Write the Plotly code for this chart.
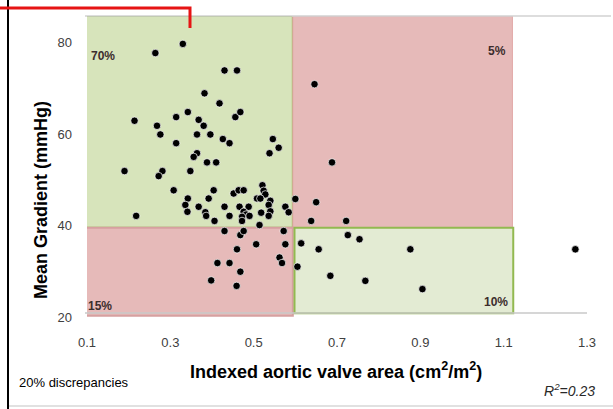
import plotly.graph_objects as go

# ---- data ----
ava_index = [0.330, 0.264, 0.430, 0.460, 0.382, 0.418, 0.342, 0.314, 0.214, 0.456,
             0.468, 0.368, 0.380, 0.268, 0.276, 0.364, 0.396, 0.426, 0.442, 0.314,
             0.546, 0.560, 0.538, 0.364, 0.356, 0.388, 0.410, 0.190, 0.281, 0.272,
             0.348, 0.308, 0.342, 0.404, 0.392, 0.452, 0.464, 0.476, 0.521, 0.524,
             0.528, 0.508, 0.516, 0.218, 0.336, 0.341, 0.368, 0.384, 0.386, 0.406,
             0.430, 0.442, 0.466, 0.488, 0.476, 0.482, 0.472, 0.490, 0.472, 0.540,
             0.536, 0.518, 0.540, 0.536, 0.576, 0.584, 0.514,
             0.646, 0.688, 0.600, 0.650, 0.638, 0.722,
             0.430, 0.468, 0.476, 0.572, 0.460, 0.506, 0.576, 0.413, 0.442, 0.468,
             0.562, 0.568, 0.398, 0.459,
             0.614, 0.605, 0.656, 0.726, 0.754, 0.684, 0.768, 0.876, 0.905, 1.272]
mean_gradient = [79.7, 77.7, 73.9, 73.9, 68.9, 66.7, 64.8, 63.7, 62.9, 63.7,
                 64.8, 63.1, 61.8, 61.8, 59.9, 59.9, 59.9, 58.9, 58.0, 58.0,
                 58.9, 57.0, 55.8, 55.8, 55.0, 53.8, 53.8, 51.9, 51.9, 50.8,
                 51.9, 47.7, 45.9, 47.7, 45.9, 47.0, 47.7, 47.7, 48.8, 47.6,
                 46.8, 45.9, 45.9, 42.1, 44.5, 43.0, 44.1, 42.9, 42.1, 41.0,
                 44.1, 42.1, 44.1, 44.1, 43.0, 42.4, 41.9, 42.1, 41.0, 45.4,
                 44.5, 42.8, 43.1, 42.1, 44.1, 42.9, 40.1,
                 70.9, 53.8, 45.8, 45.1, 41.0, 41.0,
                 38.8, 37.9, 38.8, 38.8, 34.8, 35.9, 35.9, 31.8, 31.8, 29.9,
                 33.0, 31.8, 28.0, 26.8,
                 36.1, 31.0, 34.8, 37.9, 37.0, 29.0, 27.9, 34.8, 26.1, 34.8]

x_ticks = [0.1, 0.3, 0.5, 0.7, 0.9, 1.1, 1.3]
y_ticks = [20, 40, 60, 80]
region_labels = ["70%", "5%", "15%", "10%"]

# thresholds / region limits
ava_cut = 0.594
grad_cut = 39.5
ava_min, ava_max = 0.096, 1.121
grad_min, grad_max = 20.0, 85.8

# ---- layout geometry (pixels) ----
W, H = 613, 409
L, R, T, B = 87, 26, 16, 92
PW, PH = W - L - R, H - T - B


def px(x):
    return (x - L) / PW


def py(y):
    return (H - B - y) / PH


font = "Liberation Sans"
fig = go.Figure()

GREEN_FILL = "rgb(215,228,187)"
GREEN_FILL2 = "rgb(227,235,211)"
GREEN_LINE = "rgb(146,185,80)"
RED_FILL = "rgb(230,186,185)"
RED_LINE = "rgb(226,168,167)"

shapes = [
    dict(type="rect", xref="x", yref="y", x0=ava_min, x1=ava_cut, y0=grad_cut, y1=grad_max,
         fillcolor=GREEN_FILL, line=dict(color=GREEN_LINE, width=2), layer="below"),
    dict(type="rect", xref="x", yref="y", x0=ava_cut, x1=ava_max, y0=grad_cut, y1=grad_max,
         fillcolor=RED_FILL, line=dict(color=RED_LINE, width=1), layer="below"),
    dict(type="rect", xref="x", yref="y", x0=ava_min, x1=ava_cut, y0=grad_min + 0.3, y1=grad_cut,
         fillcolor=RED_FILL, line=dict(color="rgb(214,160,160)", width=2), layer="below"),
    dict(type="rect", xref="x", yref="y", x0=ava_cut + 0.004, x1=ava_max + 0.002, y0=grad_min + 0.8, y1=grad_cut,
         fillcolor=GREEN_FILL2, line=dict(color=GREEN_LINE, width=2), layer="below"),
    dict(type="line", xref="paper", yref="paper", x0=px(85), x1=px(611), y0=py(16), y1=py(16),
         line=dict(color="rgb(210,210,210)", width=1.5)),
    dict(type="line", xref="paper", yref="paper", x0=px(85), x1=px(587), y0=py(313), y1=py(313),
         line=dict(color="rgb(200,200,200)", width=1.5)),
    dict(type="line", xref="paper", yref="paper", x0=px(8), x1=px(613), y0=py(406), y1=py(406),
         line=dict(color="rgb(215,215,215)", width=1.5)),
    dict(type="line", xref="paper", yref="paper", x0=px(8), x1=px(8), y0=py(0), y1=py(409),
         line=dict(color="black", width=2)),
    dict(type="path", xref="paper", yref="paper",
         path=f"M {px(0)},{py(8)} L {px(190)},{py(8)} L {px(190)},{py(28)}",
         line=dict(color="rgb(230,20,20)", width=3)),
]

fig.add_trace(go.Scatter(
    x=ava_index, y=mean_gradient, mode="markers",
    marker=dict(size=7.5, color="black", line=dict(color="rgba(255,255,255,0.7)", width=1)),
    showlegend=False, hoverinfo="x+y",
))

lab_font = dict(family=font, size=12, color="rgb(60,45,45)")
annotations = [
    dict(text="<b>" + region_labels[0] + "</b>", x=px(89), y=py(56), xanchor="left", yanchor="middle"),
    dict(text="<b>" + region_labels[1] + "</b>", x=px(508), y=py(51), xanchor="right", yanchor="middle"),
    dict(text="<b>" + region_labels[2] + "</b>", x=px(86), y=py(306), xanchor="left", yanchor="middle"),
    dict(text="<b>" + region_labels[3] + "</b>", x=px(510), y=py(302), xanchor="right", yanchor="middle"),
]
for a in annotations:
    a.update(xref="paper", yref="paper", showarrow=False, font=lab_font)

annotations += [
    dict(text="<b>Mean Gradient (mmHg)</b>", x=px(41), y=py(200), textangle=-90,
         xref="paper", yref="paper", showarrow=False, xanchor="center", yanchor="middle",
         font=dict(family=font, size=18, color="black")),
    dict(text="<b>Indexed aortic valve area (cm<sup>2</sup>/m<sup>2</sup>)</b>", x=px(336), y=py(370),
         xref="paper", yref="paper", showarrow=False, xanchor="center", yanchor="middle",
         font=dict(family=font, size=18, color="black")),
    dict(text="20% discrepancies", x=px(17), y=py(382),
         xref="paper", yref="paper", showarrow=False, xanchor="left", yanchor="middle",
         font=dict(family=font, size=13, color="black")),
    dict(text="<i>R<sup>2</sup>=0.23</i>", x=px(597), y=py(390),
         xref="paper", yref="paper", showarrow=False, xanchor="right", yanchor="middle",
         font=dict(family=font, size=14, color="rgb(40,40,40)")),
]

fig.update_layout(
    width=W, height=H,
    margin=dict(l=L, r=R, t=T, b=B),
    paper_bgcolor="white", plot_bgcolor="white",
    shapes=shapes, annotations=annotations,
    xaxis=dict(range=[0.1, 1.3], tickvals=x_ticks, ticktext=[f"{v:.1f}" for v in x_ticks],
               showgrid=False, zeroline=False, showline=False, ticks="",
               ticklabelstandoff=16, tickfont=dict(family=font, size=13, color="rgb(64,64,64)")),
    yaxis=dict(range=[grad_min, grad_max], tickvals=y_ticks,
               showgrid=False, zeroline=False, showline=False, ticks="",
               ticklabelstandoff=14, tickfont=dict(family=font, size=13, color="rgb(64,64,64)")),
)

fig.write_html("out.html", config={"displayModeBar": False},
               post_script="document.body.style.margin='0';document.body.style.overflow='hidden';")
